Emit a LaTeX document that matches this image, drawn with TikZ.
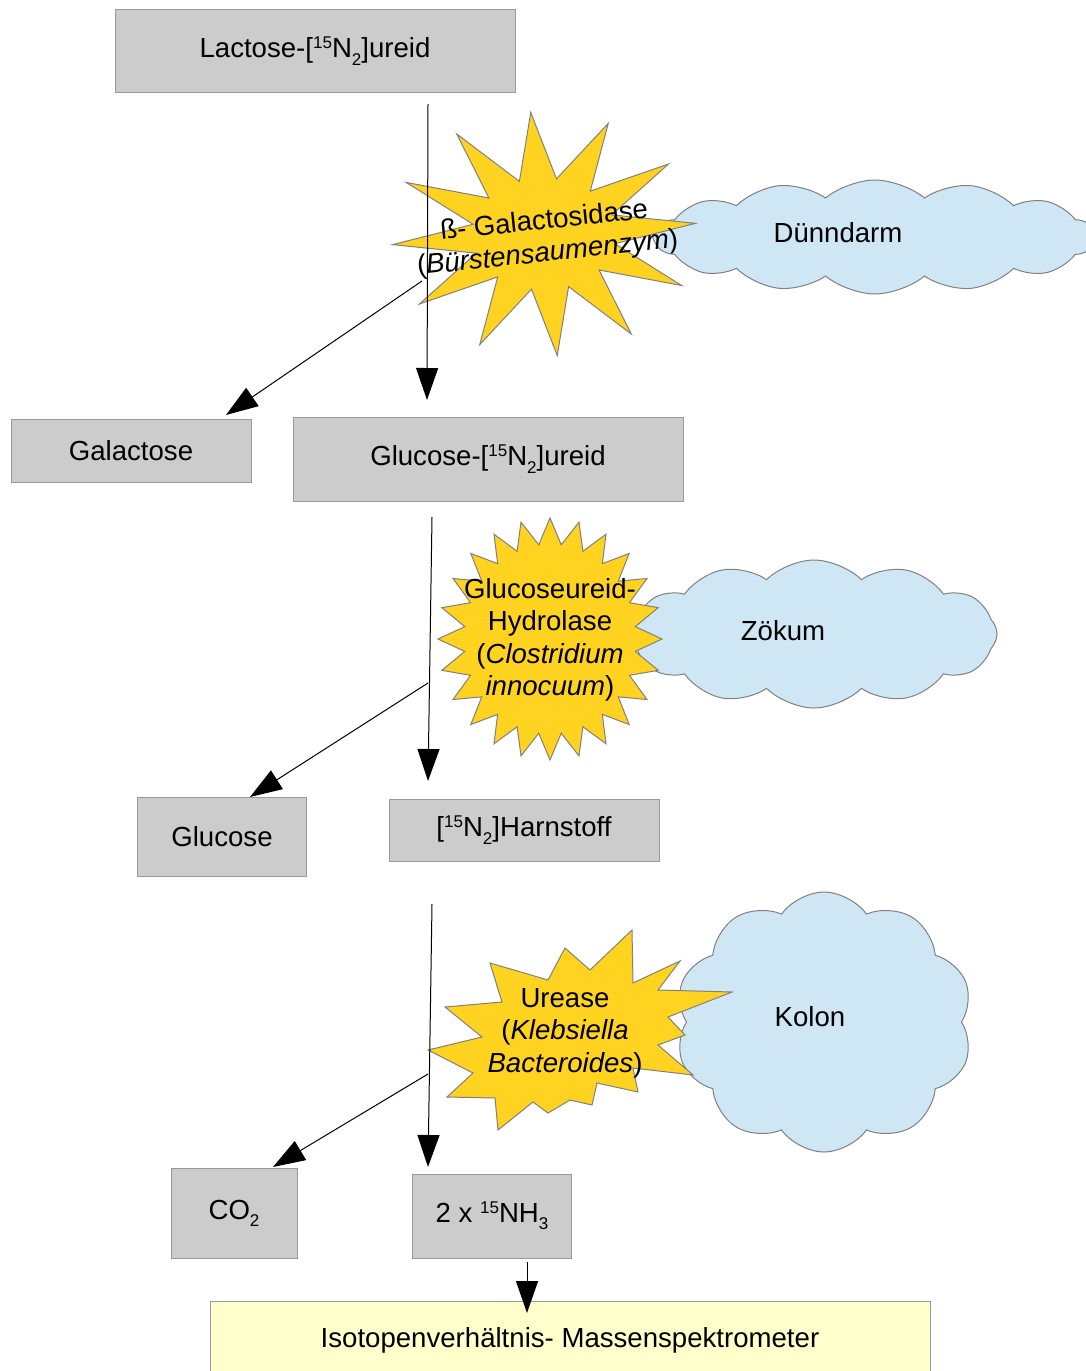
\documentclass[tikz,border=0pt]{standalone}
\usepackage{fontspec}
\setmainfont{Liberation Sans}
\usetikzlibrary{arrows.meta,shapes.symbols}

\definecolor{boxgray}{HTML}{CCCCCC}
\definecolor{edgegray}{HTML}{999999}
\definecolor{staryellow}{HTML}{FFD320}
\definecolor{cloudblue}{HTML}{CFE7F5}
\definecolor{paleyellow}{HTML}{FFFFCC}

\newcommand{\isoup}[1]{\raisebox{0.62ex}{\fontsize{8.5}{8.5}\selectfont #1}}
\newcommand{\isodown}[1]{\raisebox{-0.5ex}{\fontsize{8.5}{8.5}\selectfont #1}}

\begin{document}
\begin{tikzpicture}[x=0.5pt, y=-0.5pt, font=\fontsize{13.8}{16.2}\selectfont,
		box/.style={draw=edgegray, fill=boxgray, line width=0.5pt, inner sep=0pt},
		cloudy/.style={cloud, cloud puffs=12, cloud puff arc=95, cloud ignores aspect, draw=gray, fill=cloudblue, line width=0.5pt, inner sep=0pt},
		burst/.style={draw=gray, fill=staryellow, line width=0.5pt},
		arr/.style={-{Triangle[length=16pt, width=11pt]}, line width=0.5pt}]
				\useasboundingbox (0,0) rectangle (1086,1371);
				
				% substances
				\path (315,51) node[box, minimum width=200pt, minimum height=41.5pt] (lac){Lactose-[\isoup{15}N\isodown{2}]ureid}
				(131,451) node[box, minimum width=120pt, minimum height=31.5pt] (gal){Galactose}
				(488,459) node[box, minimum width=195pt, minimum height=42pt] (glu){Glucose-[\isoup{15}N\isodown{2}]ureid}
				(222,837) node[box, minimum width=84.5pt, minimum height=39.5pt] (gls){Glucose}
				(524,830) node[box, minimum width=135pt, minimum height=31pt] (urea){[\isoup{15}N\isodown{2}]Harnstoff}
				(234,1213) node[box, minimum width=63pt, minimum height=45pt] (co2){CO\isodown{2}}
				(492,1216) node[box, minimum width=79.5pt, minimum height=42pt] (nh3){2 x \isoup{15}NH\isodown{3}}
				(570,1340) node[box, fill=paleyellow, minimum width=360pt, minimum height=39pt] (ms){Isotopenverhältnis- Massenspektrometer};
				
				% gut sections
				\path (875,237) node[cloudy, cloud puffs=14, cloud puff arc=80, minimum width=220pt, minimum height=57pt] (dd){}
				(814,634) node[cloudy, cloud puffs=12, cloud puff arc=90, minimum width=183pt, minimum height=74pt] (zk){}
				(824,1022) node[cloudy, cloud puffs=10, cloud puff arc=110, minimum width=149pt, minimum height=130pt] (kl){}
				(838,233) node (ddt){Dünndarm}
				(783,631) node (zkt){Zökum}
				(810,1017) node (klt){Kolon};
				
				% enzymes
				\begin{scope}[shift={(544,234)}]
					\draw[burst] (-5:152 and 122) \foreach \a in {30,60,...,330} {-- (10-\a:72 and 56) -- (-5-\a:152 and 122)} -- (-350:72 and 56) -- cycle;
				\end{scope}
				\begin{scope}[shift={(550,639)}]
					\draw[burst] (0:112 and 121) \foreach \a in {15,30,...,345} {-- (\a-7.5:86 and 95) -- (\a:112 and 121)} -- (352.5:86 and 95) -- cycle;
				\end{scope}
				\draw[burst] (490,963) -- (548,980) -- (565,948) -- (590,970) -- (632,930) -- (633,983) -- (680,961) -- (658,990) -- (732,992) -- (668,1017) -- (685,1035) -- (658,1045) -- (693,1075) -- (633,1068) -- (638,1092) -- (597,1083) -- (592,1105) -- (570,1100) -- (548,1113) -- (533,1102) -- (498,1130) -- (495,1098) -- (447,1097) -- (473,1073) -- (428,1050) -- (482,1037) -- (445,1007) -- (502,1002) -- cycle;
				
				\path (546,238) node[rotate=6, align=center] (gald){ß- Galactosidase\\(\textit{Bürstensaumenzym})}
				(550,640) node[align=center] (hyd){Glucoseureid-\\Hydrolase\\(\textit{Clostridium}\\\textit{innocuum})}
				(565,1033) node[align=center] (ure){Urease\\(\textit{Klebsiella}\\\textit{Bacteroides})};
				
				% reactions
				\path (428,104) coordinate (s1) (427,400) coordinate (e1)
				(422,281) coordinate (s2) (226,415) coordinate (e2)
				(432,517) coordinate (s3) (428,781) coordinate (e3)
				(428,683) coordinate (s4) (250,797) coordinate (e4)
				(432,904) coordinate (s5) (428,1167) coordinate (e5)
				(428,1074) coordinate (s6) (273,1167) coordinate (e6)
				(527,1262) coordinate (s7) (527,1313) coordinate (e7);
				
				\draw[arr] (s1) -- (e1);
				\draw[arr] (s2) -- (e2);
				\draw[arr] (s3) -- (e3);
				\draw[arr] (s4) -- (e4);
				\draw[arr] (s5) -- (e5);
				\draw[arr] (s6) -- (e6);
				\draw[arr] (s7) -- (e7);
			\end{tikzpicture}
\end{document}
